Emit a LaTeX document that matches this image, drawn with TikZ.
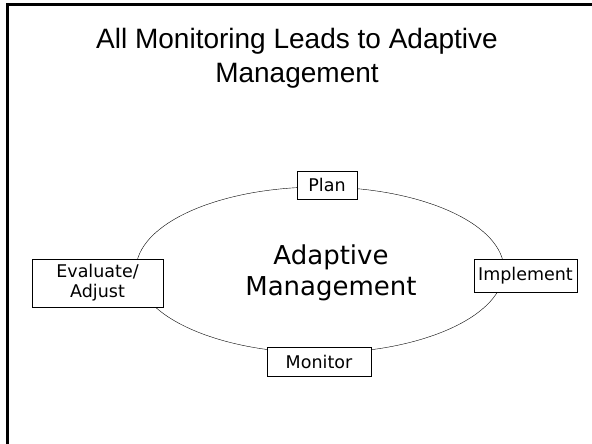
\documentclass[tikz,border=0pt]{standalone}
\usepackage{fontspec}
\setmainfont{Liberation Sans}
\newfontfamily\boxfont{DejaVu Sans}
\usetikzlibrary{shapes.geometric, positioning}

\begin{document}
\begin{tikzpicture}[x=1pt, y=-1pt,
    stage/.style={draw, fill=white, font=\boxfont\fontsize{17.5}{20}\selectfont, inner sep=0pt, align=center}]
    \useasboundingbox (0,0) rectangle (592,444);
    % Slide frame
    \draw[line width=2.5pt] (7.5,444) -- (7.5,4.5) -- (592,4.5);
    % Title
    \node[font=\fontsize{28}{34}\selectfont, align=center] (title) at (297,58)
        {All Monitoring Leads to Adaptive\\Management};
    % Cycle
    \node[ellipse, draw, minimum width=368, minimum height=166, inner sep=0pt] (cycle) at (320,270) {};
    \node[font=\boxfont\fontsize{26}{31}\selectfont, align=center] (am) at (331,273)
        {Adaptive\\Management};
    % Stages
    \node[stage, minimum width=60, minimum height=28] (plan) at (327,185) {Plan};
    \node[stage, minimum width=103, minimum height=33] (impl) at (525.5,275.5) {Implement};
    \node[stage, minimum width=104, minimum height=29] (mon) at (319,361.5) {Monitor};
    \node[stage, minimum width=131, minimum height=48] (eval) at (97.5,283) {Evaluate/\\Adjust};
\end{tikzpicture}
\end{document}
